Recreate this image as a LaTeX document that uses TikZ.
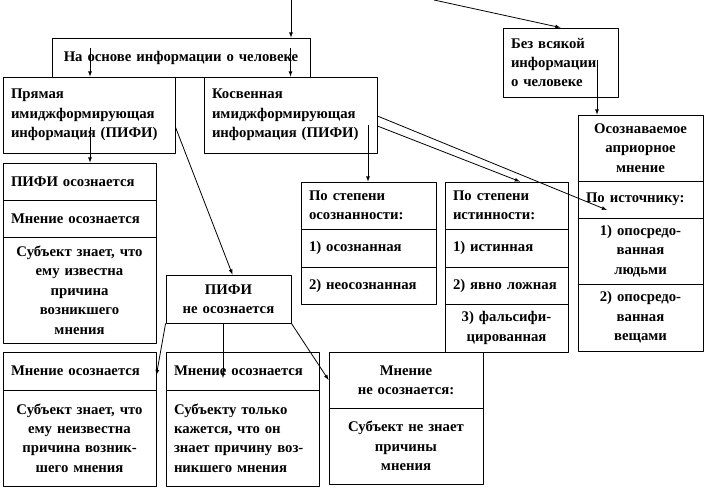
\documentclass[tikz,border=0pt]{standalone}
\usepackage{fontspec}
\setmainfont{Liberation Serif}
\usetikzlibrary{calc}
\tikzset{
  cell/.style={draw,rectangle,inner xsep=8bp,inner ysep=0pt,align=left,
    font=\bfseries\fontsize{14.8}{19.5}\selectfont},
  cellc/.style={cell,align=center},
}
\begin{document}
\begin{tikzpicture}[>=latex,line join=bevel,line width=0.8bp]
\useasboundingbox (0bp,0bp) rectangle (706bp,489bp);
%%
\node (node_osnova) at (181.0bp,431.5bp) [cellc,text width=242bp,minimum height=39bp] {На основе информации о человеке};
  \node (node_pryam) at (89.0bp,374.0bp) [cell,text width=156bp,minimum height=76bp] {Прямая\\ имиджформирующая\\ информация (ПИФИ)};
  \node (node_kosv) at (290.5bp,374.0bp) [cell,text width=157bp,minimum height=76bp] {Косвенная\\ имиджформирующая\\ информация (ПИФИ)};
  \node (node_bez) at (560.5bp,426.5bp) [cell,text width=99bp,minimum height=69bp] {Без всякой\\ информации\\ о человеке};
%
  \node (node_pifi) at (79.5bp,307.5bp) [cell,text width=137bp,minimum height=37bp] {ПИФИ осознается};
  \node (node_mnenie) at (79.5bp,270.5bp) [cell,text width=137bp,minimum height=37bp] {Мнение осознается};
  \node (node_subj) at (79.5bp,199.0bp) [cellc,text width=137bp,minimum height=106bp] {Субъект знает, что\\ ему известна\\ причина\\ возникшего\\ мнения};
  \node (node_nepifi) at (228.5bp,190.0bp) [cellc,text width=109bp,minimum height=48bp] {ПИФИ\\ не осознается};
%
  \node (node_stosozn) at (368.5bp,283.5bp) [cell,text width=119bp,minimum height=47bp] {По степени\\ осознанности:};
  \node (node_osozn) at (368.5bp,241.0bp) [cell,text width=119bp,minimum height=38bp] {1) осознанная};
  \node (node_neosozn) at (368.5bp,203.5bp) [cell,text width=119bp,minimum height=37bp] {2) неосознанная};
  \node (node_stist) at (506.5bp,283.5bp) [cell,text width=107bp,minimum height=47bp] {По степени\\ истинности:};
  \node (node_ist) at (506.5bp,241.0bp) [cell,text width=107bp,minimum height=38bp] {1) истинная};
  \node (node_lozh) at (506.5bp,203.5bp) [cell,text width=107bp,minimum height=37bp] {2) явно ложная};
  \node (node_falsif) at (506.5bp,161.0bp) [cellc,text width=107bp,minimum height=48bp] {3) фальсифи-\\ цированная};
%
  \node (node_apriori) at (640.5bp,341.0bp) [cellc,text width=109bp,minimum height=66bp] {Осознаваемое\\ априорное\\ мнение};
  \node (node_istochnik) at (640.5bp,289.5bp) [cell,text width=109bp,minimum height=37bp] {По источнику:};
  \node (node_lyudi) at (640.5bp,238.0bp) [cellc,text width=109bp,minimum height=66bp] {1) опосредо-\\ ванная\\ людьми};
  \node (node_veshchi) at (640.5bp,171.5bp) [cellc,text width=109bp,minimum height=67bp] {2) опосредо-\\ ванная\\ вещами};
%
  \node (node_mn1) at (79.5bp,118.0bp) [cell,text width=137bp,minimum height=38bp] {Мнение осознается};
  \node (node_subj1) at (79.5bp,51.0bp) [cellc,text width=137bp,minimum height=96bp] {Субъект знает, что\\ ему неизвестна\\ причина возник-\\ шего мнения};
  \node (node_mn2) at (242.5bp,118.0bp) [cell,text width=137bp,minimum height=38bp] {Мнение осознается};
  \node (node_subj2) at (242.5bp,51.0bp) [cell,text width=137bp,minimum height=96bp] {Субъекту только\\ кажется, что он\\ знает причину воз-\\ никшего мнения};
  \node (node_mn3) at (406.0bp,109.0bp) [cellc,text width=138bp,minimum height=56bp] {Мнение\\ не осознается:};
  \node (node_subj3) at (406.0bp,43.0bp) [cellc,text width=138bp,minimum height=76bp] {Субъект не знает\\ причины\\ мнения};
%
  \coordinate (c_top) at (291.0bp,489.0bp);
  \coordinate (c_top2) at (434.0bp,489.0bp);
  \coordinate (c_pryam) at ($(node_pryam.center)+(1.0bp,-12.0bp)$);
  \coordinate (c_kosv) at ($(node_kosv.center)+(77.5bp,-10.0bp)$);
  \coordinate (c_bez) at ($(node_bez.center)+(36.5bp,2.5bp)$);
  \coordinate (c_nepifi) at ($(node_nepifi.south)+(-5.5bp,0bp)$);
  \coordinate (c_mn2) at ($(c_nepifi |- node_mn2.center)+(0bp,-7.0bp)$);
  \draw [black,->] (c_top) -- (c_top |- node_osnova.north);
  \draw [black,->] ($(node_osnova.north -| node_pryam.north)+(1.0bp,-10.0bp)$) -- ($(node_pryam.north)+(1.0bp,0bp)$);
  \draw [black,->] ($(node_osnova.north -| node_kosv.north)+(0bp,-10.0bp)$) -- (node_kosv.north);
  \draw [black,->] (c_pryam) -- (c_pryam |- node_pifi.north);
  \draw [black,->] ([yshift=-12.0bp]node_pryam.east) -- ([xshift=4.0bp]node_nepifi.north);
  \draw [black,->] (c_kosv) -- (c_kosv |- node_stosozn.north);
  \draw [black,->] ([yshift=-11.0bp]node_kosv.east) -- ([xshift=13.5bp]node_stist.north);
  \draw [black,->] ([yshift=-1.0bp]node_kosv.east) -- ($(node_istochnik.center)+(-33.5bp,-10.5bp)$);
  \draw [black,->] (c_top2) -- (node_bez.north);
  \draw [black,->] (c_bez) -- (c_bez |- node_apriori.north);
  \draw [black,->] (node_nepifi.south west) -- ([yshift=-4.0bp]node_mn1.east);
  \draw [black,->] (c_nepifi) -- (c_mn2);
  \draw [black,->] (node_nepifi.south east) -- (node_mn3.west);
%
\end{tikzpicture}
\end{document}
